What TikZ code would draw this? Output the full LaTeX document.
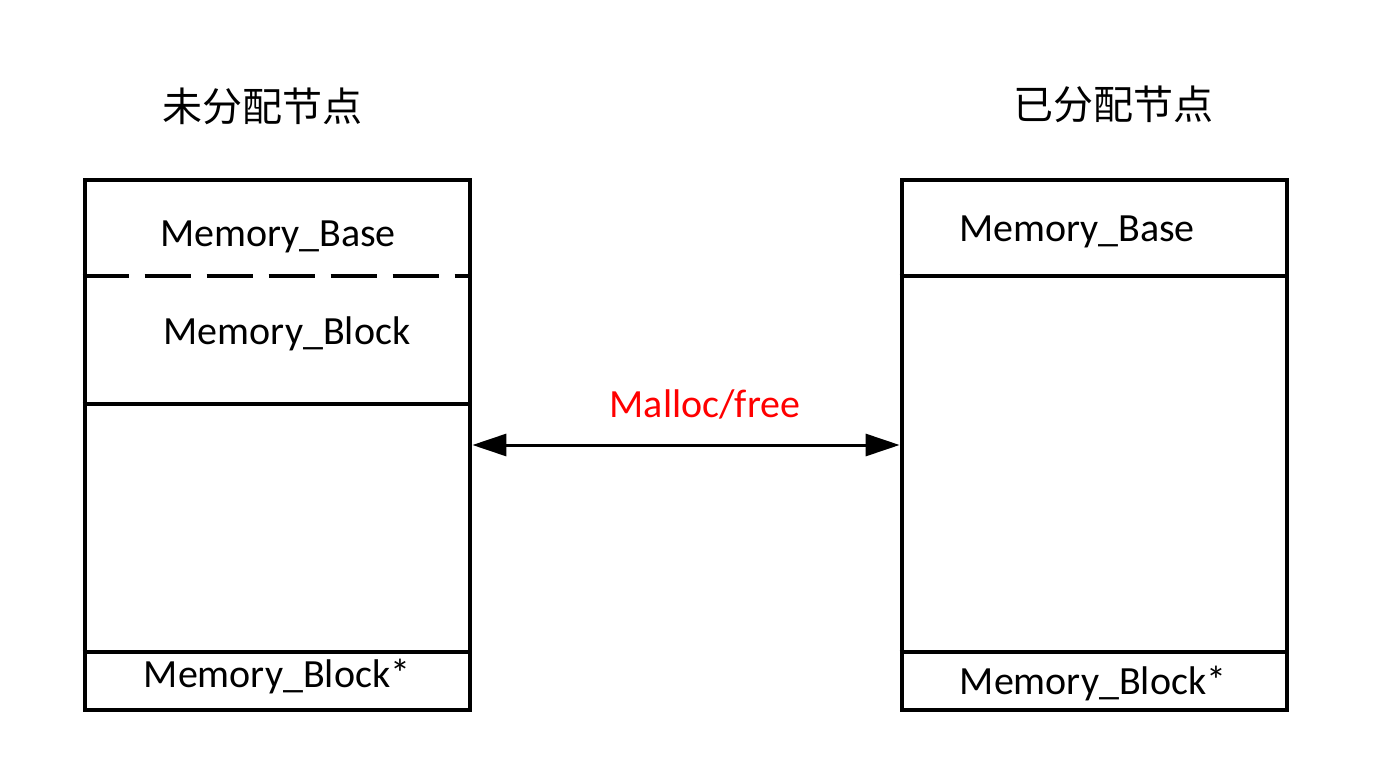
\documentclass[tikz,border=0pt]{standalone}
\usepackage{fontspec}
\setmainfont{Carlito}
\newfontfamily\cjk{Noto Sans CJK SC}
\usepackage{tikz}
\usetikzlibrary{positioning,arrows.meta}

\begin{document}
\begin{tikzpicture}[x=0.5pt,y=-0.5pt,font=\fontsize{20}{24}\selectfont]
            \tikzstyle{memnode} = [draw, line width=2.4pt, minimum width=192.5pt, minimum height=265pt, inner sep=0pt]
            \tikzstyle{title} = [font=\cjk\fontsize{20}{24}\selectfont]
            \useasboundingbox (0,0) rectangle (1398,771);
          \node[memnode] (free) at (277.5,445) {};
          \node[memnode] (used) at (1094.5,445) {};
          \node[title] (freetitle) at (262,106) {未分配节点};
          \node[title] (usedtitle) at (1113,104) {已分配节点};
            % inner lines of the two nodes
          \draw[line width=2.4pt, dash pattern=on 23pt off 8pt] (free.west |- 0,276) -- (free.east |- 0,276);
          \draw[line width=2.4pt] (free.west |- 0,404) -- (free.east |- 0,404);
          \draw[line width=2.4pt] (free.west |- 0,652) -- (free.east |- 0,652);
          \draw[line width=2.4pt] (used.west |- 0,276) -- (used.east |- 0,276);
          \draw[line width=2.4pt] (used.west |- 0,652) -- (used.east |- 0,652);
          \node (freebase) at (278,237) {Memory\_Base};
          \node (freeblock) at (287,334) {Memory\_Block};
          \node (freeptr) at (277,677) {Memory\_Block*};
          \node (usedbase) at (1077,232) {Memory\_Base};
          \node (usedptr) at (1093,684) {Memory\_Block*};
          \draw[line width=1.5pt, {Triangle[length=17pt,width=11pt]}-{Triangle[length=17pt,width=11pt]}] (free.east) -- (used.west)
            node[midway, above=9pt, xshift=9.5pt, text=red] (op) {Malloc/free};
        \end{tikzpicture}
\end{document}
